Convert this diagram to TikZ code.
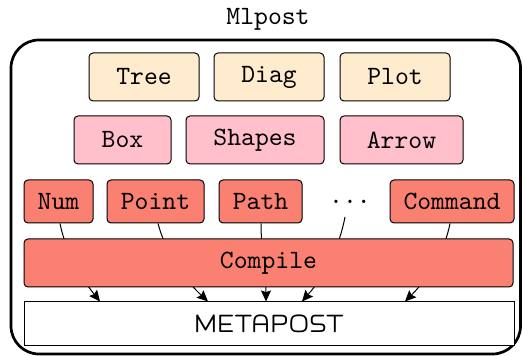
\documentclass[tikz,border=0pt]{standalone}
\usepackage{fontspec}
\setmonofont{lmmono10-regular.otf}
\usepackage{mflogo}
\usetikzlibrary{arrows.meta,calc}
\definecolor{toprow}{RGB}{255,235,205}
\definecolor{midrow}{RGB}{255,192,203}
\definecolor{lowrow}{RGB}{250,128,114}
\begin{document}
\begin{tikzpicture}[x=0.5pt,y=-0.5pt,
  ttf/.style={font=\fontsize{13.2}{15}\selectfont\ttfamily},
  box/.style={ttf, draw=black, line width=0.5pt, rounded corners=2pt, inner sep=0pt},
  tallbox/.style={box, minimum height=24pt},
  shortbox/.style={box, minimum height=21.5pt},
  toplib/.style={tallbox, fill=toprow},
  midlib/.style={tallbox, fill=midrow},
  lowlib/.style={shortbox, fill=lowrow},
  conn/.style={draw=black, line width=0.5pt, -{Stealth[length=5.5pt,width=5pt,inset=0.8pt]}},
  frame/.style={draw=black, line width=1.35pt, rounded corners=14pt}
]
\useasboundingbox (0,0) rectangle (522,356);
\draw[frame] (11,40) rectangle (520.5,354);
\node[ttf] (title) at (268,19) {Mlpost};
% top row
\node[toplib, minimum width=55pt] (tree) at (144,77) {Tree};
\node[toplib, minimum width=55pt] (diag) at (269,77) {Diag};
\node[toplib, minimum width=55pt] (plot) at (395,77) {Plot};
% middle row
\node[midlib, minimum width=48.5pt] (box) at (122.5,140) {Box};
\node[midlib, minimum width=69pt] (shapes) at (255,140) {Shapes};
\node[midlib, minimum width=61.5pt] (arrow) at (401.5,140) {Arrow};
% low row
\node[lowlib, minimum width=34.5pt] (num) at (58.5,201.5) {Num};
\node[lowlib, minimum width=48.5pt] (point) at (155.5,201.5) {Point};
\node[lowlib, minimum width=41.5pt] (path) at (260.5,201.5) {Path};
\node[ttf, inner sep=0pt] (dots) at (350,202) {...};
\node[lowlib, minimum width=62pt] (command) at (452,201.5) {Command};
% metapost
\node[draw=black, line width=0.5pt, fill=white, minimum width=245pt, minimum height=21.5pt, inner sep=0pt, font=\fontsize{14}{16}\selectfont] (mp) at (269,323.5) {\MP};
% connectors (drawn behind Compile)
\draw[conn] ($(num.south)+(1.5,0)$) .. controls ($(num.south)+(6.7,26)$) and ($(mp.north)+(-189.8,-26)$) .. ($(mp.north)+(-169,0)$);
\draw[conn] ($(point.south)+(2.5,0)$) .. controls ($(point.south)+(9.5,26)$) and ($(mp.north)+(-88.8,-26)$) .. ($(mp.north)+(-61,0)$);
\draw[conn] ($(path.south)+(0.5,0)$) .. controls ($(path.south)+(0.5,26)$) and ($(mp.north)+(-3,-26)$) .. ($(mp.north)+(-3,0)$);
\draw[conn] ($(dots.center)+(-5,15)$) .. controls ($(dots.center)+(-10.3,43)$) and ($(mp.north)+(57.4,-28)$) .. ($(mp.north)+(33,0)$);
\draw[conn] ($(command.south)+(-2,0)$) .. controls ($(command.south)+(-7.2,26)$) and ($(mp.north)+(162,-26)$) .. ($(mp.north)+(136,0)$);
% compile
\node[tallbox, fill=lowrow, minimum width=244.5pt] (compile) at (268.5,263) {Compile};
\end{tikzpicture}
\end{document}
